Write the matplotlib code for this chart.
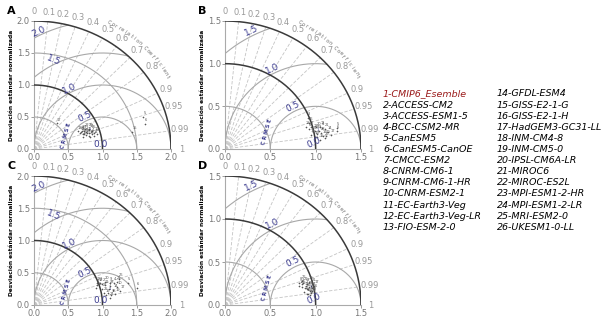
import numpy as np
import matplotlib
matplotlib.use('Agg')
import matplotlib.pyplot as plt

# model names (legend)
models = ['CMIP6_Esemble', 'ACCESS-CM2', 'ACCESS-ESM1-5', 'BCC-CSM2-MR', 'CanESM5',
          'CanESM5-CanOE', 'CMCC-ESM2', 'CNRM-CM6-1', 'CNRM-CM6-1-HR', 'CNRM-ESM2-1',
          'EC-Earth3-Veg', 'EC-Earth3-Veg-LR', 'FIO-ESM-2-0', 'GFDL-ESM4', 'GISS-E2-1-G',
          'GISS-E2-1-H', 'HadGEM3-GC31-LL', 'INM-CM4-8', 'INM-CM5-0', 'IPSL-CM6A-LR',
          'MIROC6', 'MIROC-ES2L', 'MPI-ESM1-2-HR', 'MPI-ESM1-2-LR', 'MRI-ESM2-0',
          'UKESM1-0-LL']

# normalized std and correlation per panel (approximate)
std_A = [0.84, 0.80, 0.76, 0.88, 1.67, 1.67, 0.82, 0.75, 0.78, 0.92, 0.86, 0.72, 0.70,
         0.90, 1.46, 0.83, 0.52, 0.79, 0.74, 0.86, 0.95, 0.81, 0.77, 0.73, 0.89, 0.84]
cor_A = [0.955, 0.94, 0.925, 0.965, 0.955, 0.972, 0.95, 0.95, 0.935, 0.96, 0.94, 0.94, 0.92,
         0.975, 0.983, 0.97, 0.64, 0.96, 0.965, 0.93, 0.97, 0.92, 0.955, 0.93, 0.95, 0.975]
std_B = [1.03, 0.98, 0.98, 1.10, 1.26, 1.25, 1.02, 0.95, 1.06, 1.12, 1.08, 1.00, 0.96,
         1.15, 1.05, 1.00, 1.18, 0.93, 1.09, 1.04, 1.13, 0.99, 1.07, 1.02, 1.11, 0.97]
cor_B = [0.985, 0.965, 0.93, 0.975, 0.98, 0.985, 0.99, 0.97, 0.98, 0.99, 0.972, 0.975, 0.985,
         0.985, 0.995, 0.99, 0.99, 0.96, 0.99, 0.97, 0.978, 0.98, 0.985, 0.978, 0.993, 0.95]
std_C = [1.10, 1.05, 1.02, 1.22, 1.41, 1.52, 1.12, 0.97, 1.16, 1.25, 1.08, 1.00, 0.98,
         1.18, 1.06, 1.14, 1.28, 0.95, 1.20, 1.09, 1.26, 1.03, 1.15, 1.11, 1.04, 1.30]
cor_C = [0.985, 0.95, 0.94, 0.96, 0.97, 0.985, 0.975, 0.95, 0.955, 0.975, 0.96, 0.945, 0.935,
         0.98, 0.99, 0.99, 0.985, 0.96, 0.99, 0.945, 0.96, 0.97, 0.965, 0.995, 0.985, 0.95]
std_D = [0.95, 0.92, 0.88, 0.97, 0.99, 1.00, 0.93, 0.86, 0.94, 0.96, 0.90, 0.89, 0.87,
         0.98, 0.94, 0.91, 1.01, 0.85, 0.96, 0.92, 0.99, 0.90, 0.95, 0.93, 0.97, 0.89]
cor_D = [0.985, 0.97, 0.96, 0.975, 0.99, 0.985, 0.98, 0.955, 0.965, 0.99, 0.975, 0.985, 0.97,
         0.98, 0.993, 0.99, 0.975, 0.965, 0.96, 0.98, 0.97, 0.96, 0.975, 0.99, 0.985, 0.95]

corr_ticks = [0.1, 0.2, 0.3, 0.4, 0.5, 0.6, 0.7, 0.8, 0.9, 0.95, 0.99]
corr_labels = [0, 0.1, 0.2, 0.3, 0.4, 0.5, 0.6, 0.7, 0.8, 0.9, 0.95, 0.99, 1]

NAVY = '#3b3b8f'
GREY = '#a8a8a8'
DARK = '#3a3a3a'


def taylor(ax, R, std, cor, rms_rot):
    ax.set_xlim(0, R)
    ax.set_ylim(0, R)
    ticks = np.arange(0, R + 0.01, 0.5)
    ax.set_xticks(ticks)
    ax.set_yticks(ticks)
    ax.set_xticklabels(['%.1f' % t for t in ticks])
    ax.set_yticklabels(['%.1f' % t for t in ticks])
    ax.tick_params(labelsize=6, colors='#777777', length=2, width=0.5, pad=1)
    for s in ['top', 'right']:
        ax.spines[s].set_visible(False)
    for s in ['left', 'bottom']:
        ax.spines[s].set_color('#aaaaaa')
        ax.spines[s].set_linewidth(0.8)

    t = np.linspace(0, np.pi / 2, 300)
    # radial correlation lines
    for c in corr_ticks:
        th = np.arccos(c)
        ax.plot([0, R * np.cos(th)], [0, R * np.sin(th)], ls=(0, (4, 2)),
                color='#c4c4c4', lw=0.6, zorder=1)
    # std arcs
    for r in ticks[1:]:
        if abs(r - 1) < 1e-6 or abs(r - R) < 1e-6:
            ax.plot(r * np.cos(t), r * np.sin(t), color=DARK, lw=1.1, zorder=3)
        else:
            ax.plot(r * np.cos(t), r * np.sin(t), color=GREY, lw=0.8, zorder=2)
    # rmsd arcs around reference
    phi = np.linspace(0, np.pi, 600)
    for r in ticks[1:]:
        x = 1 + r * np.cos(phi)
        y = r * np.sin(phi)
        bad = (x ** 2 + y ** 2 > R ** 2) | (x < 0)
        x[bad] = np.nan
        y[bad] = np.nan
        ax.plot(x, y, color=GREY, lw=0.8, zorder=2)
    # rmsd labels
    ang = np.radians(117)
    for r in ticks:
        d = r + 0.06 if r > 0 else 0.05
        ax.text(1 + d * np.cos(ang), d * np.sin(ang) + (0.03 if r == 0 else 0), '%.1f' % r,
                color=NAVY, fontsize=6.5, ha='center', va='center',
                rotation=rms_rot.get(r, 25), zorder=5)
    ax.text(0.46, 0.2, 'C R M S E', color=NAVY, fontsize=3.6, fontweight='bold',
            rotation=75, ha='center', va='center', zorder=5)
    # correlation labels
    for c in corr_labels:
        th = np.arccos(c)
        lab = '%g' % c
        ax.text(1.075 * R * np.cos(th), 1.075 * R * np.sin(th), lab, color='#999999',
                fontsize=6, ha='center', va='center', clip_on=False)
    # curved title
    title = 'Correlation Coefficient'
    angs = np.radians(np.linspace(61, 30, len(title)))
    for ch, a in zip(title, angs):
        ax.text(1.13 * R * np.cos(a), 1.13 * R * np.sin(a), ch, color='#666666',
                fontsize=3.6, ha='center', va='center', rotation=np.degrees(a) - 90,
                clip_on=False)
    # models
    std = np.array(std)
    cor = np.array(cor)
    xs = std * cor
    ys = std * np.sin(np.arccos(cor))
    ax.scatter(xs, ys, marker='+', s=4, lw=0.4, color='#555555', zorder=4)
    for i, (x, y) in enumerate(zip(xs, ys)):
        ax.text(x, y + 0.015 * R, str(i + 1), fontsize=2.6,
                color='#222266' if i == 0 else '#555555', ha='left', va='bottom', zorder=4)


W, H = 608, 318
fig = plt.figure(figsize=(W / 100, H / 100), dpi=100)

panels = [
    ('A', 2.0, std_A, cor_A, (34, 21, 137, 128), {1.5: -22, 0.0: 0}),
    ('B', 1.5, std_B, cor_B, (225, 21, 136, 128), {}),
    ('C', 2.0, std_C, cor_C, (34, 176, 137, 129), {1.5: -22, 0.0: 0}),
    ('D', 1.5, std_D, cor_D, (225, 176, 136, 129), {}),
]
for letter, R, s, c, (l, top, w, h), rot in panels:
    ax = fig.add_axes([l / W, 1 - (top + h) / H, w / W, h / H])
    taylor(ax, R, s, c, rot)
    fig.text((l - 22) / W, 1 - (top + h / 2) / H, 'Desviación estándar normalizada',
             rotation=90, ha='center', va='center', fontsize=4.2, fontweight='bold')
    fig.text((l - 27) / W, 1 - (top - 10) / H, letter, fontsize=8, fontweight='bold',
             ha='left', va='center')

# legend list
for i, name in enumerate(models):
    col = i // 13
    row = i % 13
    x = 383 if col == 0 else 497
    y = 94 + row * 11.1
    fig.text(x / W, 1 - y / H, '%d-%s' % (i + 1, name), fontsize=6.8, style='italic',
             color='#9b1b1b' if i == 0 else 'black', ha='left', va='center')

fig.savefig('out.png', dpi=100)
